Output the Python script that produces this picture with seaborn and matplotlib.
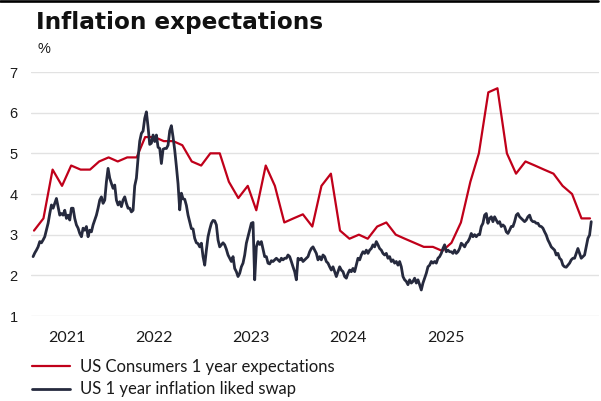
import matplotlib
matplotlib.use("Agg")
import matplotlib.pyplot as plt
import matplotlib.dates as mdates
from matplotlib.lines import Line2D
import pandas as pd
import seaborn as sns

# Monthly survey: US consumers' 1-year inflation expectations (%), Mar 2021 - Mar 2026
consumer_start = "2021-03-01"
consumer_values = [
    3.1, 3.4, 4.6, 4.2, 4.7, 4.6, 4.6, 4.8, 4.9, 4.8,
    4.9, 4.9, 5.4, 5.4, 5.3, 5.3, 5.2, 4.8, 4.7, 5.0, 5.0, 4.3,
    3.9, 4.2, 3.6, 4.7, 4.2, 3.3, 3.4, 3.5, 3.2, 4.2, 4.5, 3.1,
    2.9, 3.0, 2.9, 3.2, 3.3, 3.0, 2.9, 2.8, 2.7, 2.7, 2.6, 2.8,
    3.3, 4.3, 5.0, 6.5, 6.6, 5.0, 4.5, 4.8, 4.7, 4.6, 4.5, 4.2,
    4.0, 3.4, 3.4,
]

# US 1-year inflation-linked swap (%), evenly spaced readings
swap_start, swap_end = "2021-02-26", "2026-03-05"
swap_values = [
    2.46, 2.55, 2.62, 2.70, 2.83, 2.80, 2.87, 2.95, 3.11, 3.28, 3.52, 3.73, 3.65, 3.77, 3.89,
    3.69, 3.48, 3.52, 3.48, 3.60, 3.40, 3.48, 3.36, 3.65, 3.65, 3.40, 3.24, 3.16, 3.03, 2.95,
    3.16, 3.11, 3.20, 2.95, 3.11, 3.07, 3.24, 3.36, 3.48, 3.65, 3.85, 3.93, 3.77, 3.85, 4.30,
    4.63, 4.39, 4.26, 4.14, 4.22, 3.85, 3.73, 3.81, 3.69, 3.85, 3.93, 3.77, 3.65,
    3.65, 3.56, 3.60, 4.20, 4.39, 4.88, 5.30, 5.49, 5.55, 5.86, 6.02, 5.65, 5.22, 5.25, 5.45,
    5.29, 5.45, 5.15, 5.12, 4.75, 5.10, 5.12, 5.12, 5.20, 5.55, 5.68, 5.40, 5.08, 4.68, 4.25,
    3.61, 4.02, 3.88, 3.87, 3.72, 3.48, 3.32, 3.15, 3.14, 2.91, 2.80, 2.78, 2.70, 2.79, 2.46,
    2.25, 2.62, 2.95, 3.13, 3.28, 3.35, 3.34, 3.24, 2.87, 2.70, 2.75, 2.80, 2.75, 2.64, 2.50,
    2.42, 2.34, 2.46, 2.17, 2.09, 1.97, 2.05, 2.21, 2.30, 2.50, 2.79, 2.95, 3.11, 3.28, 3.30,
    1.89, 2.70, 2.83, 2.76, 2.83, 2.65, 2.46, 2.46, 2.30, 2.28, 2.36, 2.34, 2.38, 2.42, 2.38,
    2.34, 2.42, 2.38, 2.42, 2.42, 2.50, 2.46, 2.34, 2.21, 2.09, 1.89, 2.42, 2.38, 2.42, 2.34,
    2.38, 2.42, 2.46, 2.58, 2.66, 2.70, 2.62, 2.54, 2.38, 2.46, 2.38, 2.50, 2.46, 2.34, 2.30,
    2.21, 2.13, 2.21, 2.09, 1.97, 2.09, 2.21, 2.13, 2.09, 1.97, 1.93, 2.05, 2.13, 2.09, 2.17,
    2.09, 2.25, 2.42, 2.38, 2.50, 2.58, 2.54, 2.62, 2.54, 2.62, 2.66, 2.75, 2.70, 2.83, 2.75,
    2.66, 2.62, 2.54, 2.50, 2.54, 2.42, 2.46, 2.34, 2.38, 2.30, 2.34, 2.25, 2.34, 2.21, 1.97,
    1.89, 1.85, 1.77, 1.89, 1.81, 1.85, 1.93, 1.81, 1.89, 1.77, 1.64, 1.81, 1.93, 2.05, 2.21,
    2.25, 2.34, 2.30, 2.34, 2.30, 2.42, 2.46, 2.54, 2.66, 2.75, 2.58, 2.62, 2.58, 2.58, 2.54,
    2.62, 2.54, 2.58, 2.66, 2.79, 2.75, 2.70, 2.79, 2.83, 2.91, 3.03, 2.95, 3.00, 2.95, 3.00,
    3.00, 3.20, 3.28, 3.48, 3.52, 3.28, 3.40, 3.44, 3.32, 3.44, 3.36, 3.28, 3.32, 3.20, 3.24,
    3.20, 3.07, 3.03, 3.11, 3.20, 3.20, 3.32, 3.48, 3.52, 3.44, 3.40, 3.36, 3.32, 3.36, 3.44,
    3.48,
    3.36, 3.32, 3.32, 3.28, 3.28, 3.21, 3.20, 3.16, 3.07, 2.99, 2.87, 2.79, 2.70, 2.66, 2.62,
    2.50, 2.54, 2.42, 2.38, 2.25, 2.21, 2.20, 2.25, 2.30, 2.38, 2.42, 2.42, 2.54, 2.66, 2.54,
    2.42, 2.46, 2.50, 2.70, 2.91, 2.99, 3.32,
]

series_labels = ["US Consumers 1 year expectations", "US 1 year inflation liked swap"]
year_labels = ["2021", "2022", "2023", "2024", "2025"]
year_label_dates = ["2021-06-17", "2022-03-31", "2023-02-11", "2023-12-28", "2024-11-13"]

RED = "#C0001A"
NAVY = "#262A3E"
GRID = "#E2E2E2"
TEXT = "#1A1A1A"

consumer = pd.DataFrame({
    "date": pd.date_range(consumer_start, periods=len(consumer_values), freq="MS"),
    "value": consumer_values,
})
swap = pd.DataFrame({
    "date": pd.date_range(swap_start, swap_end, periods=len(swap_values)),
    "value": swap_values,
})

sns.set_theme(style="white")
plt.rcParams["font.family"] = ["Lato", "DejaVu Sans"]

W, H = 601, 401
fig = plt.figure(figsize=(W / 100, H / 100), dpi=100)
ax = fig.add_axes([31 / W, (H - 316) / H, (599 - 31) / W, (316 - 72) / H])

sns.lineplot(data=consumer, x="date", y="value", ax=ax, color=RED, lw=1.6,
             label=series_labels[0])
sns.lineplot(data=swap, x="date", y="value", ax=ax, color=NAVY, lw=2.0,
             label=series_labels[1])

t0 = mdates.date2num(pd.Timestamp("2021-03-01"))
ax.set_xlim(t0 - 9.9, t0 + 1855.5)
ax.set_ylim(1, 7)
ax.set_yticks(range(1, 8))
ax.set_yticklabels([str(v) for v in range(1, 8)], family=["Liberation Sans", "DejaVu Sans"],
                   fontsize=10.5, color=TEXT)
ax.set_xticks([mdates.date2num(pd.Timestamp(d)) for d in year_label_dates])
ax.set_xticklabels(year_labels, fontsize=11.5, color=TEXT)
ax.tick_params(axis="y", length=0, pad=9.5)
ax.tick_params(axis="x", length=0, pad=11)
ax.grid(axis="y", color=GRID, lw=1)
ax.grid(axis="x", visible=False)
ax.set_axisbelow(True)
for s in ax.spines.values():
    s.set_visible(False)
ax.set_xlabel("")
ax.set_ylabel("")

handles, labels = ax.get_legend_handles_labels()
ax.get_legend().remove()
fig.legend(handles, labels, loc="upper left", bbox_to_anchor=(32 / W, 1 - 359 / H),
           frameon=False, fontsize=12, handlelength=2.3, handletextpad=0.6,
           labelspacing=0.38, borderpad=0, borderaxespad=0, labelcolor=TEXT)

fig.text(36 / W, 1 - 29 / H, "Inflation expectations", fontsize=16.7,
         fontweight="bold", family=["DejaVu Sans"], color="#111111", va="baseline")
fig.text(37 / W, 1 - 49 / H, "%", fontsize=10.5, family=["Liberation Sans", "DejaVu Sans"],
         color=TEXT, va="center")
fig.add_artist(Line2D([0, 598 / W], [1 - 1.3 / H, 1 - 1.3 / H], color="black", lw=1.9))

fig.savefig("out.png", dpi=100)
